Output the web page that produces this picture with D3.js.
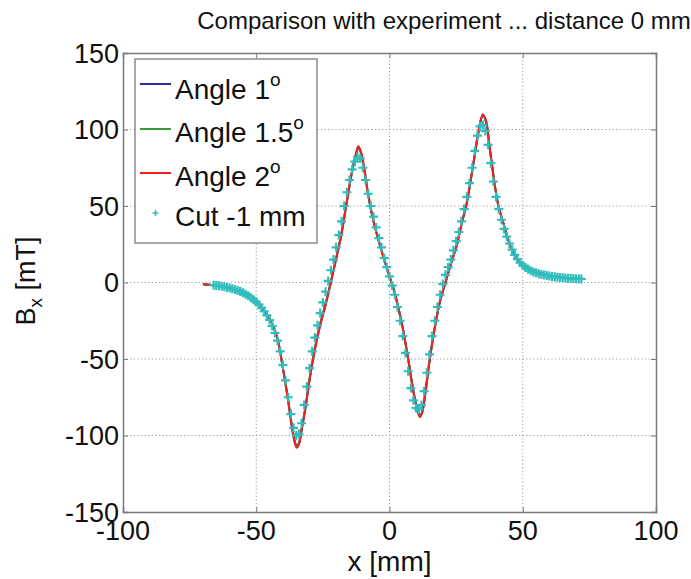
<!DOCTYPE html>
<html>
<head>
<meta charset="utf-8">
<script src="https://cdn.jsdelivr.net/npm/d3@7"></script>
<style>
  html, body { margin: 0; padding: 0; background: #fff; }
  svg { display: block; }
  text { font-family: "Liberation Sans", Arial, Helvetica, sans-serif; fill: #111; }
</style>
</head>
<body>
<svg id="chart" width="691" height="579"></svg>
<script>
// Simulated field profiles B_x(x) for three tilt angles
const simX = [-70, -66, -62, -58, -55, -52, -50, -48, -46, -44, -42, -40, -38, -36.5, -35.5, -34.8, -34, -33, -31.5, -30,
  -28, -26, -24, -22.3, -21, -19.2, -18, -16, -14, -12.5, -11.7, -10.8, -9.5, -8, -6, -4, -2, 0, 1.5, 3,
  5, 7, 9, 10.5, 11.4, 12.3, 13.5, 15, 17, 19, 21, 23, 25.2, 27, 29, 31.5, 33.5, 35, 36.2, 37.5,
  39.6, 41, 42.7, 44.5, 46.5, 48.5, 50.2, 53, 56.5, 60, 63, 68, 73];

const angle1 = [-1.2, -1.8, -2.8, -4.5, -6.5, -9.5, -13, -16.5, -21, -27, -37, -56, -77, -95, -104, -107, -105, -96, -81, -63,
  -43, -27, -14, -2, 8, 22, 32, 53, 73, 84, 88, 85, 74, 57, 40, 27, 15, 4, -4, -14,
  -30, -50, -71, -83, -87, -84, -71, -51, -29, -12, 0, 12, 24, 38, 52, 78, 99, 109, 105, 89,
  62, 49, 39, 28, 19.4, 14, 10.7, 8, 6.3, 4.6, 3.7, 2.8, 2.3];

const angle15 = [-1.2, -1.8, -2.8, -4.5, -6.5, -9.5, -13, -16.5, -21, -27, -37, -56, -77.5, -95.5, -104.5, -107.5, -105.5, -96.5, -81.5, -63.5,
  -43.5, -27.5, -14.5, -2, 8, 22, 32, 53, 73, 84.5, 88.5, 85.5, 74.5, 57.5, 40, 27, 15, 4, -4, -14,
  -30, -50, -71.5, -83.5, -87.5, -84.5, -71.5, -51.5, -29.5, -12, 0, 12, 24, 38, 52, 78, 99.5, 109.5, 105.5, 89.5,
  62.5, 49, 39, 28, 19.4, 14, 10.7, 8, 6.3, 4.6, 3.7, 2.8, 2.3];

const angle2 = [-1.2, -1.8, -2.8, -4.5, -6.5, -9.5, -13, -16.5, -21, -27, -37, -56, -78, -96, -105, -108, -106, -97, -82, -64,
  -44, -28, -15, -2, 8, 22, 32, 53, 73, 85, 89, 86, 75, 58, 40, 27, 15, 4, -4, -14,
  -30, -50, -72, -84, -88, -85, -72, -52, -30, -12, 0, 12, 24, 38, 52, 78, 100, 110, 106, 90,
  63, 49, 39, 28, 19.4, 14, 10.7, 8, 6.3, 4.6, 3.7, 2.8, 2.3];

// Measured profile, 1 mm below the nominal cut, sampled every millimetre
const cutX = [-66, -65, -64, -63, -62, -61, -60, -59, -58, -57, -56, -55, -54, -53, -52, -51, -50, -49, -48, -47,
  -46, -45, -44, -43, -42, -41, -40, -39, -38, -37, -36, -35, -34, -33, -32, -31, -30, -29, -28, -27,
  -26, -25, -24, -23, -22, -21, -20, -19, -18, -17, -16, -15, -14, -13, -12, -11, -10, -9, -8, -7,
  -6, -5, -4, -3, -2, -1, 0, 1, 2, 3, 4, 5, 6, 7, 8, 9, 10, 11, 12, 13,
  14, 15, 16, 17, 18, 19, 20, 21, 22, 23, 24, 25, 26, 27, 28, 29, 30, 31, 32, 33,
  34, 35, 36, 37, 38, 39, 40, 41, 42, 43, 44, 45, 46, 47, 48, 49, 50, 51, 52, 53,
  54, 55, 56, 57, 58, 59, 60, 61, 62, 63, 64, 65, 66, 67, 68, 69, 70, 71, 72];

const cutB = [-1.8, -2.0, -2.2, -2.5, -2.8, -3.2, -3.6, -4.1, -4.6, -5.2, -5.9, -6.7, -7.6, -8.7, -9.9, -11.2, -12.8, -14.5, -16.5, -18.8,
  -21.5, -24.5, -28.5, -33, -38, -45, -54, -64, -75, -86, -95, -100, -99, -92, -80, -68, -56, -45, -36, -28,
  -20, -13, -6, 1, 8, 15, 23, 31, 40, 50, 59, 67, 74, 79, 82, 81, 75, 67, 58, 50,
  43, 36, 29, 23, 16, 10, 4, -2, -8, -16, -25, -35, -46, -58, -69, -77, -82, -83, -80, -71,
  -59, -47, -35, -25, -16, -8, -1, 5, 10, 15, 21, 27, 33, 40, 48, 56, 65, 75, 86, 96,
  102, 103, 99, 90, 78, 66, 56, 48, 41, 35, 30, 25.5, 21.5, 18, 15.3, 13, 11.2, 9.8, 8.6, 7.7,
  6.9, 6.3, 5.8, 5.3, 4.9, 4.5, 4.2, 3.9, 3.7, 3.5, 3.3, 3.1, 2.9, 2.8, 2.7, 2.6, 2.5, 2.4, 2.3];

const xTicks = [-100, -50, 0, 50, 100];
const yTicks = [-150, -100, -50, 0, 50, 100, 150];

const titleText = "Comparison with experiment ... distance 0 mm";

const colors = { a1: "#2b2ba6", a15: "#3a9a3a", a2: "#ee2020", cut: "#30bdbd" };

const svg = d3.select("#chart");
const plot = { left: 123, right: 656, top: 53, bottom: 512 };

const x = d3.scaleLinear().domain([-100, 100]).range([plot.left, plot.right]);
const y = d3.scaleLinear().domain([-150, 150]).range([plot.bottom, plot.top]);

// dotted grid at the inner ticks
const grid = svg.append("g").attr("stroke", "#9a9a9a").attr("stroke-width", 1).attr("stroke-dasharray", "1.2,2.4");
xTicks.slice(1, -1).forEach(t => {
  grid.append("line").attr("x1", x(t)).attr("x2", x(t)).attr("y1", plot.top).attr("y2", plot.bottom);
});
yTicks.slice(1, -1).forEach(t => {
  grid.append("line").attr("x1", plot.left).attr("x2", plot.right).attr("y1", y(t)).attr("y2", y(t));
});

// axes with inward ticks on all four sides
const axisCol = "#7a7a7a";
const tickLen = 5;
const gx = svg.append("g").attr("transform", `translate(0,${plot.bottom})`)
  .call(d3.axisBottom(x).tickValues(xTicks).tickSize(-tickLen).tickFormat(""));
const gxt = svg.append("g").attr("transform", `translate(0,${plot.top})`)
  .call(d3.axisTop(x).tickValues(xTicks).tickSize(-tickLen).tickFormat(""));
const gy = svg.append("g").attr("transform", `translate(${plot.left},0)`)
  .call(d3.axisLeft(y).tickValues(yTicks).tickSize(-tickLen).tickFormat(""));
const gyr = svg.append("g").attr("transform", `translate(${plot.right},0)`)
  .call(d3.axisRight(y).tickValues(yTicks).tickSize(-tickLen).tickFormat(""));
[gx, gxt, gy, gyr].forEach(g => {
  g.selectAll("path").attr("stroke", axisCol).attr("stroke-width", 1.5);
  g.selectAll("line").attr("stroke", axisCol).attr("stroke-width", 1);
});

// tick labels
const tickFont = 27;
svg.append("g").selectAll("text").data(xTicks).join("text")
  .attr("x", d => x(d)).attr("y", 540)
  .attr("text-anchor", "middle").attr("font-size", tickFont)
  .text(d => d);
svg.append("g").selectAll("text").data(yTicks).join("text")
  .attr("x", 119).attr("y", d => y(d) + 9.6)
  .attr("text-anchor", "end").attr("font-size", tickFont)
  .text(d => d);

// curves
const line = d3.line().x(d => x(d[0])).y(d => y(d[1])).curve(d3.curveCatmullRom.alpha(0.5));
const plotG = svg.append("g");
[[angle1, colors.a1], [angle15, colors.a15], [angle2, colors.a2]].forEach(([vals, col]) => {
  plotG.append("path")
    .datum(simX.map((v, i) => [v, vals[i]]))
    .attr("fill", "none").attr("stroke", col).attr("stroke-width", 2)
    .attr("stroke-linejoin", "round")
    .attr("d", line);
});

// measured points as '+' markers
const cross = (g, cx, cy, r) => {
  g.append("path").attr("d", `M${cx - r},${cy}H${cx + r}M${cx},${cy - r}V${cy + r}`);
};
const markG = plotG.append("g").attr("stroke", colors.cut).attr("stroke-width", 2.2).attr("fill", "none");
cutX.forEach((v, i) => cross(markG, x(v), y(cutB[i]), 4.5));

// title
svg.append("text").attr("x", 444).attr("y", 29).attr("text-anchor", "middle")
  .attr("font-size", 24).text(titleText);

// axis labels
svg.append("text").attr("x", x(0)).attr("y", 571).attr("text-anchor", "middle")
  .attr("font-size", 28).text("x [mm]");
const yl = svg.append("text").attr("transform", `translate(35,281) rotate(-90)`)
  .attr("text-anchor", "middle").attr("font-size", 27);
yl.append("tspan").text("B");
yl.append("tspan").attr("font-size", 19).attr("dy", 7).text("x");
yl.append("tspan").attr("dy", -7).text(" [mT]");

// legend
const leg = svg.append("g");
leg.append("rect").attr("x", 135).attr("y", 59).attr("width", 182).attr("height", 184)
  .attr("fill", "#fff").attr("stroke", axisCol).attr("stroke-width", 1.3);
const legendItems = [
  { label: "Angle 1", sup: "o", col: colors.a1, base: 99, mark: 84 },
  { label: "Angle 1.5", sup: "o", col: colors.a15, base: 142, mark: 129 },
  { label: "Angle 2", sup: "o", col: colors.a2, base: 186, mark: 173 },
  { label: "Cut -1 mm", sup: "", col: colors.cut, base: 226, mark: 213, marker: true }
];
legendItems.forEach(it => {
  if (it.marker) {
    const mg = leg.append("g").attr("stroke", it.col).attr("stroke-width", 1.6);
    cross(mg, 155.5, it.mark, 3);
  } else {
    leg.append("line").attr("x1", 140).attr("x2", 171).attr("y1", it.mark).attr("y2", it.mark)
      .attr("stroke", it.col).attr("stroke-width", 2);
  }
  const t = leg.append("text").attr("x", 175).attr("y", it.base).attr("font-size", 28);
  t.append("tspan").text(it.label);
  if (it.sup) t.append("tspan").attr("font-size", 19).attr("dy", -13).text(it.sup);
});
</script>
</body>
</html>
